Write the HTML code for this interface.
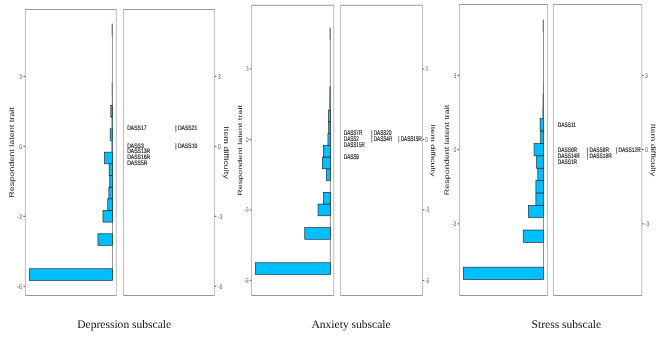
<!DOCTYPE html>
<html lang="en"><head><meta charset="utf-8"><title>DASS-21 Wright maps</title>
<style>html,body{margin:0;padding:0;background:#fff;}body{width:669px;height:337px;overflow:hidden;}svg{display:block;will-change:transform;}text{text-rendering:geometricPrecision;}</style>
</head><body>
<svg width="669" height="337" viewBox="0 0 669 337">
<rect width="669" height="337" fill="#fff"/>
<g>
<rect x="25.4" y="9.5" width="90.90" height="286.00" fill="#fff"/>
<path d="M25.00 9.5H116.70M25.00 295.5H116.70" fill="none" stroke="#8e8e8e" stroke-width="0.9"/>
<path d="M25.4 9.5V295.5M116.3 9.5V295.5" fill="none" stroke="#b8b8b8" stroke-width="0.95"/>
<rect x="123.5" y="9.5" width="90.90" height="286.00" fill="#fff"/>
<path d="M123.10 9.5H214.80M123.10 295.5H214.80" fill="none" stroke="#8e8e8e" stroke-width="0.9"/>
<path d="M123.5 9.5V295.5M214.4 9.5V295.5" fill="none" stroke="#b8b8b8" stroke-width="0.95"/>
<line x1="112.45" y1="23.82" x2="112.45" y2="280.45" stroke="#8a8a8a" stroke-width="0.95"/>
<rect x="29.25" y="268.78" width="83.20" height="11.66" fill="#00bfff" stroke="#1a1a1a" stroke-width="0.6"/>
<rect x="97.95" y="233.79" width="14.50" height="11.66" fill="#00bfff" stroke="#1a1a1a" stroke-width="0.6"/>
<rect x="102.95" y="210.46" width="9.50" height="11.66" fill="#00bfff" stroke="#1a1a1a" stroke-width="0.6"/>
<rect x="107.75" y="198.79" width="4.70" height="11.66" fill="#00bfff" stroke="#1a1a1a" stroke-width="0.6"/>
<rect x="108.85" y="187.13" width="3.60" height="11.66" fill="#00bfff" stroke="#1a1a1a" stroke-width="0.6"/>
<rect x="109.75" y="175.46" width="2.70" height="11.66" fill="#00bfff" stroke="#1a1a1a" stroke-width="0.6"/>
<rect x="109.15" y="163.80" width="3.30" height="11.66" fill="#00bfff" stroke="#1a1a1a" stroke-width="0.6"/>
<rect x="104.45" y="152.13" width="8.00" height="11.66" fill="#00bfff" stroke="#1a1a1a" stroke-width="0.6"/>
<line x1="112.15" y1="140.47" x2="112.15" y2="152.13" stroke="#3a6073" stroke-width="1.28"/>
<rect x="110.15" y="128.80" width="2.30" height="11.66" fill="#00bfff" stroke="#1a1a1a" stroke-width="0.6"/>
<line x1="112.20" y1="117.14" x2="112.20" y2="128.80" stroke="#3a6073" stroke-width="1.20"/>
<rect x="110.85" y="105.47" width="1.60" height="11.66" fill="#00bfff" stroke="#1a1a1a" stroke-width="0.6"/>
<line x1="112.35" y1="93.81" x2="112.35" y2="105.47" stroke="#74777a" stroke-width="0.96"/>
<line x1="112.25" y1="82.14" x2="112.25" y2="93.81" stroke="#74777a" stroke-width="1.12"/>
<line x1="112.25" y1="23.82" x2="112.25" y2="35.48" stroke="#74777a" stroke-width="1.12"/>
<line x1="23.39" y1="76.31" x2="25.10" y2="76.31" stroke="#2b2b2b" stroke-width="0.85"/>
<text transform="translate(22.11,78.81) scale(0.775,1)" text-anchor="end" font-family='"Liberation Sans", Arial, Helvetica, sans-serif' font-size="7.0" fill="#626262">3</text>
<line x1="23.39" y1="146.30" x2="25.10" y2="146.30" stroke="#2b2b2b" stroke-width="0.85"/>
<text transform="translate(22.11,148.80) scale(0.775,1)" text-anchor="end" font-family='"Liberation Sans", Arial, Helvetica, sans-serif' font-size="7.0" fill="#626262">0</text>
<line x1="23.39" y1="216.29" x2="25.10" y2="216.29" stroke="#2b2b2b" stroke-width="0.85"/>
<text transform="translate(22.11,218.79) scale(0.775,1)" text-anchor="end" font-family='"Liberation Sans", Arial, Helvetica, sans-serif' font-size="7.0" fill="#626262">-3</text>
<line x1="23.39" y1="286.28" x2="25.10" y2="286.28" stroke="#2b2b2b" stroke-width="0.85"/>
<text transform="translate(22.11,288.78) scale(0.775,1)" text-anchor="end" font-family='"Liberation Sans", Arial, Helvetica, sans-serif' font-size="7.0" fill="#626262">-6</text>
<line x1="214.70" y1="76.31" x2="216.41" y2="76.31" stroke="#2b2b2b" stroke-width="0.85"/>
<text transform="translate(217.69,78.81) scale(0.775,1)" text-anchor="start" font-family='"Liberation Sans", Arial, Helvetica, sans-serif' font-size="7.0" fill="#626262">3</text>
<line x1="214.70" y1="146.30" x2="216.41" y2="146.30" stroke="#2b2b2b" stroke-width="0.85"/>
<text transform="translate(217.69,148.80) scale(0.775,1)" text-anchor="start" font-family='"Liberation Sans", Arial, Helvetica, sans-serif' font-size="7.0" fill="#626262">0</text>
<line x1="214.70" y1="216.29" x2="216.41" y2="216.29" stroke="#2b2b2b" stroke-width="0.85"/>
<text transform="translate(217.69,218.79) scale(0.775,1)" text-anchor="start" font-family='"Liberation Sans", Arial, Helvetica, sans-serif' font-size="7.0" fill="#626262">-3</text>
<line x1="214.70" y1="286.28" x2="216.41" y2="286.28" stroke="#2b2b2b" stroke-width="0.85"/>
<text transform="translate(217.69,288.78) scale(0.775,1)" text-anchor="start" font-family='"Liberation Sans", Arial, Helvetica, sans-serif' font-size="7.0" fill="#626262">-6</text>
<text transform="translate(127.2,130.3) scale(0.775,1)" font-family='"Liberation Sans", Arial, Helvetica, sans-serif' font-size="6.5" fill="#161616" stroke="#161616" stroke-width="0.18">DASS17</text>
<text transform="translate(175.2,130.3) scale(0.775,1)" font-family='"Liberation Sans", Arial, Helvetica, sans-serif' font-size="6.5" fill="#161616" stroke="#161616" stroke-width="0.18">| DASS21</text>
<text transform="translate(127.2,147.6) scale(0.775,1)" font-family='"Liberation Sans", Arial, Helvetica, sans-serif' font-size="6.5" fill="#161616" stroke="#161616" stroke-width="0.18">DASS3</text>
<text transform="translate(175.2,147.6) scale(0.775,1)" font-family='"Liberation Sans", Arial, Helvetica, sans-serif' font-size="6.5" fill="#161616" stroke="#161616" stroke-width="0.18">| DASS10</text>
<text transform="translate(127.2,153.4) scale(0.775,1)" font-family='"Liberation Sans", Arial, Helvetica, sans-serif' font-size="6.5" fill="#161616" stroke="#161616" stroke-width="0.18">DASS13R</text>
<text transform="translate(127.2,159.3) scale(0.775,1)" font-family='"Liberation Sans", Arial, Helvetica, sans-serif' font-size="6.5" fill="#161616" stroke="#161616" stroke-width="0.18">DASS16R</text>
<text transform="translate(127.2,165.3) scale(0.775,1)" font-family='"Liberation Sans", Arial, Helvetica, sans-serif' font-size="6.5" fill="#161616" stroke="#161616" stroke-width="0.18">DASS5R</text>
<text transform="translate(14.3,152.5) scale(0.775,1) rotate(-90)" text-anchor="middle" font-family='"Liberation Sans", Arial, Helvetica, sans-serif' font-size="9.0" fill="#1c1c1c">Respondent latent trait</text>
<text transform="translate(224.1,152.5) scale(0.775,1) rotate(90)" text-anchor="middle" font-family='"Liberation Sans", Arial, Helvetica, sans-serif' font-size="9.0" fill="#1c1c1c">Item difficulty</text>
<text x="124.2" y="328.25" text-anchor="middle" font-family='"Liberation Serif", "Times New Roman", serif' font-size="11.55" fill="#111">Depression subscale</text>
</g>
<g>
<rect x="251.5" y="5.25" width="82.20" height="290.25" fill="#fff"/>
<path d="M251.10 5.25H334.10M251.10 295.5H334.10" fill="none" stroke="#8e8e8e" stroke-width="0.9"/>
<path d="M251.5 5.25V295.5M333.7 5.25V295.5" fill="none" stroke="#b8b8b8" stroke-width="0.95"/>
<rect x="340.55" y="5.25" width="81.90" height="290.25" fill="#fff"/>
<path d="M340.15 5.25H422.85M340.15 295.5H422.85" fill="none" stroke="#8e8e8e" stroke-width="0.9"/>
<path d="M340.55 5.25V295.5M422.45 5.25V295.5" fill="none" stroke="#b8b8b8" stroke-width="0.95"/>
<line x1="330.35" y1="27.87" x2="330.35" y2="274.52" stroke="#8a8a8a" stroke-width="0.95"/>
<rect x="255.25" y="262.77" width="75.10" height="11.74" fill="#00bfff" stroke="#1a1a1a" stroke-width="0.6"/>
<rect x="304.75" y="227.54" width="25.60" height="11.74" fill="#00bfff" stroke="#1a1a1a" stroke-width="0.6"/>
<rect x="318.05" y="204.05" width="12.30" height="11.74" fill="#00bfff" stroke="#1a1a1a" stroke-width="0.6"/>
<rect x="323.45" y="192.30" width="6.90" height="11.74" fill="#00bfff" stroke="#1a1a1a" stroke-width="0.6"/>
<rect x="326.35" y="168.81" width="4.00" height="11.74" fill="#00bfff" stroke="#1a1a1a" stroke-width="0.6"/>
<rect x="322.45" y="157.07" width="7.90" height="11.74" fill="#00bfff" stroke="#1a1a1a" stroke-width="0.6"/>
<rect x="323.45" y="145.32" width="6.90" height="11.74" fill="#00bfff" stroke="#1a1a1a" stroke-width="0.6"/>
<rect x="327.95" y="133.58" width="2.40" height="11.74" fill="#00bfff" stroke="#1a1a1a" stroke-width="0.6"/>
<rect x="328.55" y="121.83" width="1.80" height="11.74" fill="#00bfff" stroke="#1a1a1a" stroke-width="0.6"/>
<rect x="328.55" y="110.09" width="1.80" height="11.74" fill="#00bfff" stroke="#1a1a1a" stroke-width="0.6"/>
<line x1="330.00" y1="98.34" x2="330.00" y2="110.09" stroke="#3a6073" stroke-width="1.36"/>
<line x1="330.05" y1="86.60" x2="330.05" y2="98.34" stroke="#3a6073" stroke-width="1.28"/>
<line x1="330.15" y1="27.87" x2="330.15" y2="39.62" stroke="#74777a" stroke-width="1.12"/>
<line x1="249.73" y1="68.98" x2="251.20" y2="68.98" stroke="#2b2b2b" stroke-width="0.85"/>
<text transform="translate(248.69,71.48) scale(0.67,1)" text-anchor="end" font-family='"Liberation Sans", Arial, Helvetica, sans-serif' font-size="7.0" fill="#626262">3</text>
<line x1="249.73" y1="139.45" x2="251.20" y2="139.45" stroke="#2b2b2b" stroke-width="0.85"/>
<text transform="translate(248.69,141.95) scale(0.67,1)" text-anchor="end" font-family='"Liberation Sans", Arial, Helvetica, sans-serif' font-size="7.0" fill="#626262">0</text>
<line x1="249.73" y1="209.92" x2="251.20" y2="209.92" stroke="#2b2b2b" stroke-width="0.85"/>
<text transform="translate(248.69,212.42) scale(0.67,1)" text-anchor="end" font-family='"Liberation Sans", Arial, Helvetica, sans-serif' font-size="7.0" fill="#626262">-3</text>
<line x1="249.73" y1="280.39" x2="251.20" y2="280.39" stroke="#2b2b2b" stroke-width="0.85"/>
<text transform="translate(248.69,282.89) scale(0.67,1)" text-anchor="end" font-family='"Liberation Sans", Arial, Helvetica, sans-serif' font-size="7.0" fill="#626262">-6</text>
<line x1="422.75" y1="68.98" x2="424.22" y2="68.98" stroke="#2b2b2b" stroke-width="0.85"/>
<text transform="translate(425.26,71.48) scale(0.67,1)" text-anchor="start" font-family='"Liberation Sans", Arial, Helvetica, sans-serif' font-size="7.0" fill="#626262">3</text>
<line x1="422.75" y1="139.45" x2="424.22" y2="139.45" stroke="#2b2b2b" stroke-width="0.85"/>
<text transform="translate(425.26,141.95) scale(0.67,1)" text-anchor="start" font-family='"Liberation Sans", Arial, Helvetica, sans-serif' font-size="7.0" fill="#626262">0</text>
<line x1="422.75" y1="209.92" x2="424.22" y2="209.92" stroke="#2b2b2b" stroke-width="0.85"/>
<text transform="translate(425.26,212.42) scale(0.67,1)" text-anchor="start" font-family='"Liberation Sans", Arial, Helvetica, sans-serif' font-size="7.0" fill="#626262">-3</text>
<line x1="422.75" y1="280.39" x2="424.22" y2="280.39" stroke="#2b2b2b" stroke-width="0.85"/>
<text transform="translate(425.26,282.89) scale(0.67,1)" text-anchor="start" font-family='"Liberation Sans", Arial, Helvetica, sans-serif' font-size="7.0" fill="#626262">-6</text>
<text transform="translate(343.8,135.1) scale(0.67,1)" font-family='"Liberation Sans", Arial, Helvetica, sans-serif' font-size="6.9" fill="#161616" stroke="#161616" stroke-width="0.18">DASS7R</text>
<text transform="translate(371.3,135.1) scale(0.67,1)" font-family='"Liberation Sans", Arial, Helvetica, sans-serif' font-size="6.9" fill="#161616" stroke="#161616" stroke-width="0.18">| DASS20</text>
<text transform="translate(343.8,140.9) scale(0.67,1)" font-family='"Liberation Sans", Arial, Helvetica, sans-serif' font-size="6.9" fill="#161616" stroke="#161616" stroke-width="0.18">DASS2</text>
<text transform="translate(371.3,140.9) scale(0.67,1)" font-family='"Liberation Sans", Arial, Helvetica, sans-serif' font-size="6.9" fill="#161616" stroke="#161616" stroke-width="0.18">| DASS4R</text>
<text transform="translate(398.3,140.9) scale(0.67,1)" font-family='"Liberation Sans", Arial, Helvetica, sans-serif' font-size="6.9" fill="#161616" stroke="#161616" stroke-width="0.18">| DASS19R</text>
<text transform="translate(343.8,146.9) scale(0.67,1)" font-family='"Liberation Sans", Arial, Helvetica, sans-serif' font-size="6.9" fill="#161616" stroke="#161616" stroke-width="0.18">DASS15R</text>
<text transform="translate(343.8,159.0) scale(0.67,1)" font-family='"Liberation Sans", Arial, Helvetica, sans-serif' font-size="6.9" fill="#161616" stroke="#161616" stroke-width="0.18">DASS9</text>
<text transform="translate(241.6,150.4) scale(0.67,1) rotate(-90)" text-anchor="middle" font-family='"Liberation Sans", Arial, Helvetica, sans-serif' font-size="9.0" fill="#1c1c1c">Respondent latent trait</text>
<text transform="translate(431.1,150.4) scale(0.67,1) rotate(90)" text-anchor="middle" font-family='"Liberation Sans", Arial, Helvetica, sans-serif' font-size="9.0" fill="#1c1c1c">Item difficulty</text>
<text x="351.1" y="328.25" text-anchor="middle" font-family='"Liberation Serif", "Times New Roman", serif' font-size="11.55" fill="#111">Anxiety subscale</text>
</g>
<g>
<rect x="459.5" y="4.5" width="88.00" height="291.00" fill="#fff"/>
<path d="M459.10 4.5H547.90M459.10 295.5H547.90" fill="none" stroke="#8e8e8e" stroke-width="0.9"/>
<path d="M459.5 4.5V295.5M547.5 4.5V295.5" fill="none" stroke="#b8b8b8" stroke-width="0.95"/>
<rect x="553.4" y="4.5" width="88.40" height="291.00" fill="#fff"/>
<path d="M553.00 4.5H642.20M553.00 295.5H642.20" fill="none" stroke="#8e8e8e" stroke-width="0.9"/>
<path d="M553.4 4.5V295.5M641.8 4.5V295.5" fill="none" stroke="#b8b8b8" stroke-width="0.95"/>
<line x1="543.5" y1="19.66" x2="543.5" y2="279.54" stroke="#8a8a8a" stroke-width="0.95"/>
<rect x="463.30" y="267.16" width="80.20" height="12.38" fill="#00bfff" stroke="#1a1a1a" stroke-width="0.6"/>
<rect x="523.20" y="230.04" width="20.30" height="12.38" fill="#00bfff" stroke="#1a1a1a" stroke-width="0.6"/>
<rect x="528.40" y="205.29" width="15.10" height="12.38" fill="#00bfff" stroke="#1a1a1a" stroke-width="0.6"/>
<rect x="535.90" y="192.91" width="7.60" height="12.38" fill="#00bfff" stroke="#1a1a1a" stroke-width="0.6"/>
<rect x="535.90" y="180.54" width="7.60" height="12.38" fill="#00bfff" stroke="#1a1a1a" stroke-width="0.6"/>
<rect x="537.80" y="168.16" width="5.70" height="12.38" fill="#00bfff" stroke="#1a1a1a" stroke-width="0.6"/>
<rect x="536.50" y="155.79" width="7.00" height="12.38" fill="#00bfff" stroke="#1a1a1a" stroke-width="0.6"/>
<rect x="534.10" y="143.41" width="9.40" height="12.38" fill="#00bfff" stroke="#1a1a1a" stroke-width="0.6"/>
<rect x="540.60" y="131.04" width="2.90" height="12.38" fill="#00bfff" stroke="#1a1a1a" stroke-width="0.6"/>
<rect x="540.10" y="118.66" width="3.40" height="12.38" fill="#00bfff" stroke="#1a1a1a" stroke-width="0.6"/>
<line x1="543.15" y1="106.29" x2="543.15" y2="118.66" stroke="#3a6073" stroke-width="1.36"/>
<line x1="543.25" y1="93.91" x2="543.25" y2="106.29" stroke="#3a6073" stroke-width="1.20"/>
<line x1="543.40" y1="81.54" x2="543.40" y2="93.91" stroke="#74777a" stroke-width="0.96"/>
<line x1="543.30" y1="19.66" x2="543.30" y2="32.04" stroke="#74777a" stroke-width="1.12"/>
<line x1="457.58" y1="75.35" x2="459.20" y2="75.35" stroke="#2b2b2b" stroke-width="0.85"/>
<text transform="translate(456.39,77.85) scale(0.735,1)" text-anchor="end" font-family='"Liberation Sans", Arial, Helvetica, sans-serif' font-size="7.0" fill="#626262">3</text>
<line x1="457.58" y1="149.60" x2="459.20" y2="149.60" stroke="#2b2b2b" stroke-width="0.85"/>
<text transform="translate(456.39,152.10) scale(0.735,1)" text-anchor="end" font-family='"Liberation Sans", Arial, Helvetica, sans-serif' font-size="7.0" fill="#626262">0</text>
<line x1="457.58" y1="223.85" x2="459.20" y2="223.85" stroke="#2b2b2b" stroke-width="0.85"/>
<text transform="translate(456.39,226.35) scale(0.735,1)" text-anchor="end" font-family='"Liberation Sans", Arial, Helvetica, sans-serif' font-size="7.0" fill="#626262">-3</text>
<line x1="642.10" y1="75.35" x2="643.72" y2="75.35" stroke="#2b2b2b" stroke-width="0.85"/>
<text transform="translate(644.91,77.85) scale(0.735,1)" text-anchor="start" font-family='"Liberation Sans", Arial, Helvetica, sans-serif' font-size="7.0" fill="#626262">3</text>
<line x1="642.10" y1="149.60" x2="643.72" y2="149.60" stroke="#2b2b2b" stroke-width="0.85"/>
<text transform="translate(644.91,152.10) scale(0.735,1)" text-anchor="start" font-family='"Liberation Sans", Arial, Helvetica, sans-serif' font-size="7.0" fill="#626262">0</text>
<line x1="642.10" y1="223.85" x2="643.72" y2="223.85" stroke="#2b2b2b" stroke-width="0.85"/>
<text transform="translate(644.91,226.35) scale(0.735,1)" text-anchor="start" font-family='"Liberation Sans", Arial, Helvetica, sans-serif' font-size="7.0" fill="#626262">-3</text>
<text transform="translate(557.7,127.2) scale(0.735,1)" font-family='"Liberation Sans", Arial, Helvetica, sans-serif' font-size="6.6" fill="#161616" stroke="#161616" stroke-width="0.18">DASS11</text>
<text transform="translate(557.7,151.9) scale(0.735,1)" font-family='"Liberation Sans", Arial, Helvetica, sans-serif' font-size="6.6" fill="#161616" stroke="#161616" stroke-width="0.18">DASS6R</text>
<text transform="translate(587.0,151.9) scale(0.735,1)" font-family='"Liberation Sans", Arial, Helvetica, sans-serif' font-size="6.6" fill="#161616" stroke="#161616" stroke-width="0.18">| DASS8R</text>
<text transform="translate(616.0,151.9) scale(0.735,1)" font-family='"Liberation Sans", Arial, Helvetica, sans-serif' font-size="6.6" fill="#161616" stroke="#161616" stroke-width="0.18">| DASS12R</text>
<text transform="translate(557.7,158.1) scale(0.735,1)" font-family='"Liberation Sans", Arial, Helvetica, sans-serif' font-size="6.6" fill="#161616" stroke="#161616" stroke-width="0.18">DASS14R</text>
<text transform="translate(587.0,158.1) scale(0.735,1)" font-family='"Liberation Sans", Arial, Helvetica, sans-serif' font-size="6.6" fill="#161616" stroke="#161616" stroke-width="0.18">| DASS18R</text>
<text transform="translate(557.7,164.3) scale(0.735,1)" font-family='"Liberation Sans", Arial, Helvetica, sans-serif' font-size="6.6" fill="#161616" stroke="#161616" stroke-width="0.18">DASS1R</text>
<text transform="translate(449.0,150.0) scale(0.735,1) rotate(-90)" text-anchor="middle" font-family='"Liberation Sans", Arial, Helvetica, sans-serif' font-size="9.0" fill="#1c1c1c">Respondent latent trait</text>
<text transform="translate(651.3,150.0) scale(0.735,1) rotate(90)" text-anchor="middle" font-family='"Liberation Sans", Arial, Helvetica, sans-serif' font-size="9.0" fill="#1c1c1c">Item difficulty</text>
<text x="566.4" y="328.25" text-anchor="middle" font-family='"Liberation Serif", "Times New Roman", serif' font-size="11.55" fill="#111">Stress subscale</text>
</g>
</svg>
</body></html>
